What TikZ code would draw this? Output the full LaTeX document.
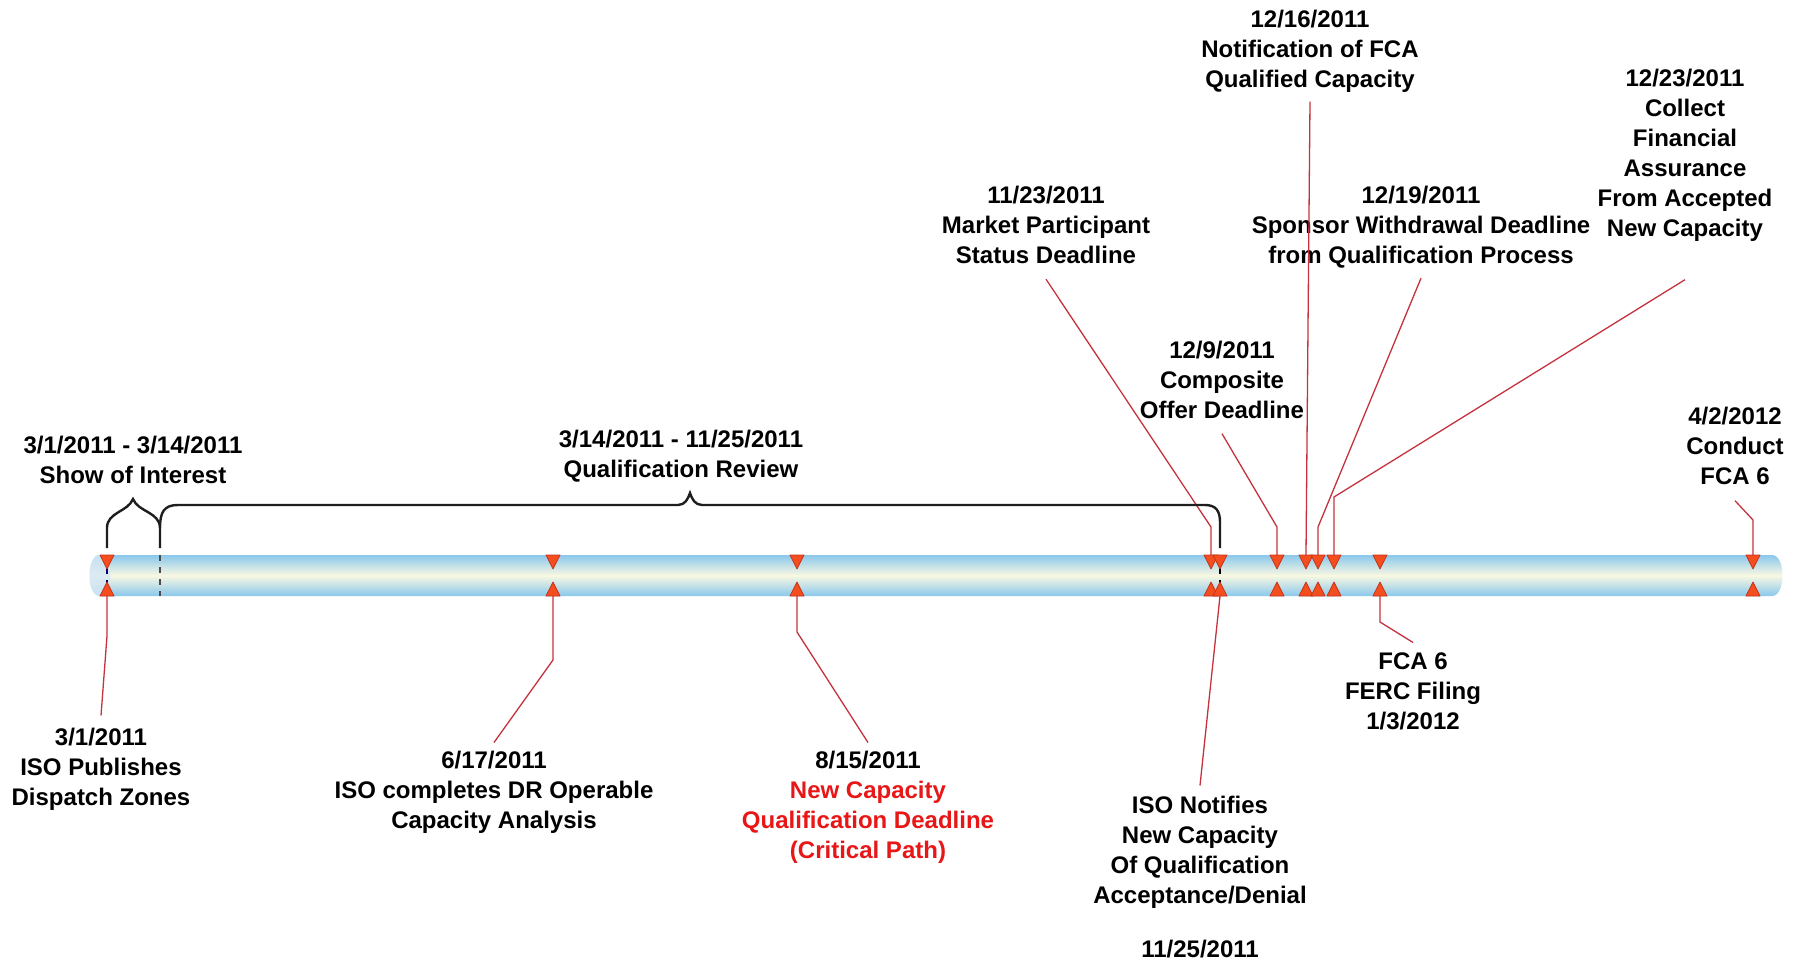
\documentclass[tikz,border=0pt]{standalone}
\usepackage{fontspec}
\setmainfont{Liberation Sans}
\usetikzlibrary{positioning}
\definecolor{barblue}{RGB}{138,200,236}
\definecolor{barcream}{RGB}{250,248,226}
\definecolor{barcap}{RGB}{214,232,245}
\definecolor{trifill}{RGB}{244,78,30}
\definecolor{triline}{RGB}{196,52,30}
\definecolor{connred}{RGB}{196,50,62}
\definecolor{critred}{RGB}{232,22,22}
\definecolor{bracegray}{RGB}{30,30,30}
\begin{document}
\begin{tikzpicture}[x=0.5pt,y=-0.5pt,
    lbl/.style={font=\bfseries\fontsize{12}{15}\selectfont,align=center,anchor=north,inner sep=0pt,text depth=0pt},
    conn/.style={draw=connred,line width=0.65pt},
    evtri/.style={fill=trifill,draw=triline,line width=0.4pt,line join=round},
    brc/.style={draw=bracegray,line width=1.2pt}]
  \useasboundingbox (0,0) rectangle (1801,963);
  \shade[top color=barblue,bottom color=barblue,middle color=barcream] (100,555) -- (1772,555) .. controls (1786,555) and (1786,596) .. (1772,596) -- (100,596) .. controls (86,596) and (86,555) .. (100,555) -- cycle;
  \fill[barcap,opacity=0.8] (100,555) .. controls (86,555) and (86,596) .. (100,596) .. controls (114,596) and (114,555) .. (100,555) -- cycle;
  \draw[dashed,line width=0.8pt,draw=black!70] (160,555) -- (160,596);
  \draw[dashed,line width=0.6pt,draw=black!60!blue] (107,568) -- (107,583);
  \draw[dashed,line width=0.7pt] (1220,568) -- (1220,583);
  \foreach \x in {107,553,797,1211,1220,1277,1306,1318,1334,1380,1753} {
    \coordinate (up\x) at (\x,555);
    \coordinate (dn\x) at (\x,596);
  }

  \node[lbl] (n1216) at (1310,9.5) {12/16/2011\\Notification of FCA\\Qualified Capacity};
  \node[lbl] (n1223) at (1685,68.5) {12/23/2011\\Collect\\Financial\\Assurance\\From Accepted\\New Capacity};
  \node[lbl] (n1123) at (1046,186) {11/23/2011\\Market Participant\\Status Deadline};
  \node[lbl] (n1219) at (1421,186) {12/19/2011\\Sponsor Withdrawal Deadline\\from Qualification Process};
  \node[lbl] (n1209) at (1222,340.5) {12/9/2011\\Composite\\Offer Deadline};
  \node[lbl] (n0402) at (1735,406.5) {4/2/2012\\Conduct\\FCA 6};
  \node[lbl] (soi) at (133,435.5) {3/1/2011 - 3/14/2011\\Show of Interest};
  \node[lbl] (qrev) at (681,429.5) {3/14/2011 - 11/25/2011\\Qualification Review};
  \node[lbl] (n0103) at (1413,652.5) {FCA 6\\FERC Filing\\1/3/2012};
  \node[lbl] (n0301) at (101,727.5) {3/1/2011\\ISO Publishes\\Dispatch Zones};
  \node[lbl] (n0617) at (494,750.5) {6/17/2011\\ISO completes DR Operable\\Capacity Analysis};
  \node[lbl] (n0815) at (868,750.5) {8/15/2011\\\textcolor{critred}{New Capacity}\\\textcolor{critred}{Qualification Deadline}\\\textcolor{critred}{(Critical Path)}};
  \node[lbl] (n1125) at (1200,795.5) {ISO Notifies\\New Capacity\\Of Qualification\\Acceptance/Denial\\[12pt]11/25/2011};

  \draw[conn] ([yshift=-7.5pt]n1123.south) -- (1211,527) -- (up1211);
  \draw[conn] ([yshift=-7.5pt]n1209.south) -- (1277,527) -- (up1277);
  \draw[conn] ([yshift=-7pt]n1216.south) -- (up1306);
  \draw[conn] ([yshift=-7pt]n1219.south) -- (1318,527) -- (up1318);
  \draw[conn] ([yshift=-21.5pt]n1223.south) -- (1334,497) -- (up1334);
  \draw[conn] ([yshift=-8pt]n0402.south) -- (1753,520) -- (up1753);
  \draw[conn] ([yshift=6pt]n0301.north) -- (107,636) -- (dn107);
  \draw[conn] ([yshift=4pt]n0617.north) -- (553,660) -- (dn553);
  \draw[conn] ([yshift=4pt]n0815.north) -- (797,632) -- (dn797);
  \draw[conn] ([yshift=5pt]n1125.north) -- (dn1220);
  \draw[conn] ([yshift=5pt]n0103.north) -- (1380,622) -- (dn1380);

  \foreach \x in {107,553,797,1211,1220,1277,1306,1318,1334,1380,1753} {
    \draw[evtri] (\x-7,555) -- (\x+7,555) -- (\x,569) -- cycle;
    \draw[evtri] (\x-7,596) -- (\x+7,596) -- (\x,582) -- cycle;
  }

  \draw[brc] (107,548) -- (107,528) .. controls (107,512) and (128,512) .. (133,499) .. controls (138,512) and (160,512) .. (160,528) -- (160,548);
  \draw[brc] (160,528) .. controls (160,512) and (164,505) .. (178,505) -- (678,505) .. controls (685,505) and (688,499) .. (690,493) .. controls (692,499) and (695,505) .. (702,505) -- (1205,505) .. controls (1216,505) and (1220,511) .. (1220,522) -- (1220,548);
\end{tikzpicture}
\end{document}
